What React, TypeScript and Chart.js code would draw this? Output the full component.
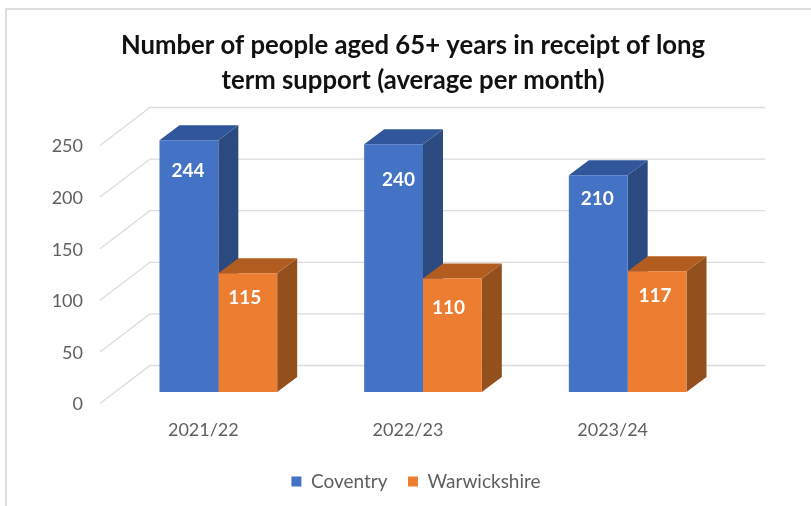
import React, { useEffect, useRef } from "react";
import { Chart, registerables } from "chart.js";

Chart.register(...registerables);

const years = ["2021/22", "2022/23", "2023/24"];
const coventry = [244, 240, 210];
const warwickshire = [115, 110, 117];
const axisTicks = [0, 50, 100, 150, 200, 250];

const FONT = "Lato, Carlito, Calibri, sans-serif";
const GREY = "#5f5f5f";
const GRID = "#dcdcdc";

// Depth of a bar, and of the floor on either side of the bar plane.
const BAR_DX = 20;
const BAR_DY = 15;
const FLOOR_FRONT = { dx: -16, dy: 11.5 };
const FLOOR_BACK = { dx: 34, dy: -26.5 };
const BACK_RIGHT_EXTRA = 35;

// Label nudges relative to the top centre of each bar: [series][year] -> [dx, dy].
const labelNudge = [
  [[-1, 31], [5, 36], [-1, 24]],
  [[-3, 25], [-4, 29], [-2, 25]],
];

const faceColours = [
  { side: "#2a4a80", top: "#31579a" },
  { side: "#93501c", top: "#b25c20" },
];

const depthPlugin = {
  id: "depth3d",
  afterLayout(chart: any) {
    // Tick labels are clipped to the axis box, so widen it towards the canvas edge.
    chart.scales.y.left = 20;
    // The legend sits slightly right of the centred title.
    chart.legend.left += 3;
    chart.legend.right += 3;
  },
  beforeDatasetsDraw(chart: any) {
    const { ctx, chartArea, scales } = chart;
    ctx.save();
    ctx.strokeStyle = GRID;
    ctx.lineWidth = 1.3;
    for (const v of axisTicks) {
      const y = scales.y.getPixelForValue(v);
      const bx = chartArea.left + FLOOR_BACK.dx;
      const by = y + FLOOR_BACK.dy;
      ctx.beginPath();
      ctx.moveTo(chartArea.left + FLOOR_FRONT.dx, y + FLOOR_FRONT.dy);
      ctx.lineTo(bx, by);
      ctx.lineTo(chartArea.right + BACK_RIGHT_EXTRA, by);
      ctx.stroke();
    }
    chart.data.datasets.forEach((_: any, i: number) => {
      for (const bar of chart.getDatasetMeta(i).data) {
        const left = bar.x - bar.width / 2;
        const right = bar.x + bar.width / 2;
        const top = bar.y;
        const bottom = bar.base;
        ctx.fillStyle = faceColours[i].side;
        ctx.beginPath();
        ctx.moveTo(right, top);
        ctx.lineTo(right + BAR_DX, top - BAR_DY);
        ctx.lineTo(right + BAR_DX, bottom - BAR_DY);
        ctx.lineTo(right, bottom);
        ctx.closePath();
        ctx.fill();
        ctx.fillStyle = faceColours[i].top;
        ctx.beginPath();
        ctx.moveTo(left, top);
        ctx.lineTo(left + BAR_DX, top - BAR_DY);
        ctx.lineTo(right + BAR_DX, top - BAR_DY);
        ctx.lineTo(right, top);
        ctx.closePath();
        ctx.fill();
      }
    });
    ctx.restore();
  },
  afterDatasetsDraw(chart: any) {
    const { ctx } = chart;
    ctx.save();
    ctx.fillStyle = "#ffffff";
    ctx.font = `bold 19px ${FONT}`;
    ctx.textAlign = "center";
    ctx.textBaseline = "middle";
    chart.data.datasets.forEach((ds: any, i: number) => {
      chart.getDatasetMeta(i).data.forEach((bar: any, j: number) => {
        const [dx, dy] = labelNudge[i][j];
        ctx.fillText(String(ds.data[j]), bar.x + dx, bar.y + dy);
      });
    });
    ctx.restore();
  },
};

const framePlugin = {
  id: "frame",
  beforeDraw(chart: any) {
    const { ctx, width, height } = chart;
    ctx.save();
    ctx.strokeStyle = "#dedede";
    ctx.lineWidth = 2;
    ctx.beginPath();
    ctx.moveTo(6, height);
    ctx.lineTo(6, 9);
    ctx.lineTo(width, 9);
    ctx.stroke();
    ctx.restore();
  },
};

export default function App() {
  const canvasRef = useRef<HTMLCanvasElement>(null);

  useEffect(() => {
    document.body.style.margin = "0";
    const chart = new Chart(canvasRef.current!, {
      type: "bar",
      data: {
        labels: years,
        datasets: [
          { label: "Coventry", data: coventry, backgroundColor: "#4472c4" },
          { label: "Warwickshire", data: warwickshire, backgroundColor: "#ed7d31" },
        ],
      },
      plugins: [framePlugin, depthPlugin],
      options: {
        animation: false,
        responsive: false,
        layout: { padding: { left: 96, right: 81, top: 0, bottom: 5 } },
        datasets: { bar: { categoryPercentage: 0.575, barPercentage: 1, borderWidth: 0 } },
        plugins: {
          title: {
            display: true,
            text: [
              "Number of people aged 65+ years in receipt of long",
              "term support (average per month)",
            ],
            color: "#111111",
            font: { family: FONT, size: 25.7, weight: "bold", lineHeight: 35 / 25.7 },
            padding: { top: 28, bottom: 36 },
          },
          legend: {
            position: "bottom",
            labels: {
              boxWidth: 10,
              boxHeight: 10,
              padding: 20.5,
              color: GREY,
              font: { family: FONT, size: 19 },
            },
          },
          tooltip: { enabled: false },
        },
        scales: {
          x: {
            grid: { display: false },
            border: { display: false },
            afterFit: (s: any) => {
              s.height = 59.5;
            },
            ticks: {
              color: GREY,
              font: { family: FONT, size: 18 },
              padding: 19,
              labelOffset: -15,
              maxRotation: 0,
            },
          },
          y: {
            min: 0,
            max: 250,
            grid: { display: false },
            border: { display: false },
            afterFit: (s: any) => {
              s.width = 20;
            },
            ticks: {
              stepSize: 50,
              color: GREY,
              font: { family: FONT, size: 18 },
              padding: 25,
              labelOffset: 12.5,
            },
          },
        },
      },
    } as any);
    return () => chart.destroy();
  }, []);

  return <canvas ref={canvasRef} width={811} height={506} style={{ display: "block" }} />;
}
